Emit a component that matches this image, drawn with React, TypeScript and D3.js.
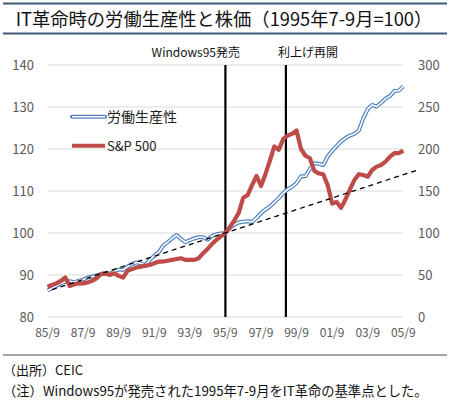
import React, { useEffect } from "react";
import * as d3 from "d3";

// Quarterly data, 1985 Jul-Sep (index 0) to 2005 Jul-Sep (index 80)
const productivity: number[] = [
  86.3, 86.8, 87.4, 88.0, 88.4, 88.5, 88.3, 88.6, 88.9, 89.4,
  89.6, 89.9, 90.2, 90.4, 90.3, 90.9, 91.3, 91.2, 92.0, 92.6,
  93.0, 92.8, 92.3, 93.6, 94.6, 95.4, 97.0, 97.8, 98.7, 99.5,
  98.6, 97.8, 98.3, 98.7, 99.0, 99.0, 98.4, 99.3, 99.7, 99.9,
  100.0, 101.2, 102.0, 102.5, 102.7, 102.8, 102.6, 103.6, 104.7, 105.6,
  106.3, 107.3, 108.3, 109.5, 110.4, 111.0, 111.9, 113.5, 113.5, 115.3,
  116.6, 116.5, 116.2, 118.2, 119.6, 120.7, 121.8, 122.6, 123.2, 123.6,
  124.4, 127.3, 129.5, 130.5, 130.1, 131.0, 132.0, 132.6, 133.8, 133.9,
  134.9,
];

const sp500: number[] = [
  36, 38, 40, 43, 47, 37, 39, 40, 40, 41,
  43, 46, 51, 52, 50, 52, 49, 47, 55, 57,
  59, 60, 61, 62, 64, 66, 66, 67, 68, 69,
  70, 68, 68, 68, 70, 76, 81, 87, 92, 96,
  100, 107, 115, 124, 142, 145, 157, 168, 156, 170,
  186, 203, 199, 212, 216, 218, 222, 200, 192, 189,
  174, 171, 170, 157, 135, 137, 130, 140, 152, 163,
  170, 169, 167, 175, 179, 181, 185, 191, 195, 195,
  198,
];

// Trend line (productivity, left axis) endpoints: [quarter index, value]
const trendQ: number[] = [1, 83.5];
const trendV: number[] = [86.5, 115.1];

const xTickLabels: string[] = ["85/9", "87/9", "89/9", "91/9", "93/9", "95/9", "97/9", "99/9", "01/9", "03/9", "05/9"];
const xTickQ: number[] = [0, 8, 16, 24, 32, 40, 48, 56, 64, 72, 80];
const leftTicks: number[] = [80, 90, 100, 110, 120, 130, 140];
const rightTicks: number[] = [0, 50, 100, 150, 200, 250, 300];

const eventQ: number[] = [40, 53.6];
const eventLabels: string[] = ["Windows95発売", "利上げ再開"];

const seriesNames: string[] = ["労働生産性", "S&P 500"];
const title = "IT革命時の労働生産性と株価（1995年7-9月=100）";
const notes: string[] = ["（出所）CEIC", "（注）Windows95が発売された1995年7-9月をIT革命の基準点とした。"];

const W = 450;
const H = 403;
const font = "'Noto Sans CJK JP', 'Noto Sans', sans-serif";

export default function App() {
  useEffect(() => {
    document.body.style.margin = "0";
  }, []);

  const x = d3.scaleLinear().domain([0, 80]).range([47.5, 403.3]);
  const yL = d3.scaleLinear().domain([80, 140]).range([317, 65]);
  const yR = d3.scaleLinear().domain([0, 300]).range([317, 65]);

  const lineL = d3.line<number>().x((_, i) => x(i)).y((d) => yL(d));
  const lineR = d3.line<number>().x((_, i) => x(i)).y((d) => yR(d));

  const trendPath = d3.line<number>().x((q) => x(q)).y((_, i) => yL(trendV[i]))(trendQ) || "";
  const prodPath = lineL(productivity) || "";
  const spPath = lineR(sp500) || "";

  const blue = "#4f81bd";
  const red = "#be4b48";
  const labelColor = "#595959";

  return (
    <svg width={W} height={H} style={{ position: "absolute", left: 0, top: 0, background: "#fff" }} fontFamily={font}>
      {/* title */}
      <line x1={3} x2={447} y1={3.5} y2={3.5} stroke="#3e5a78" strokeWidth={2} />
      <text x={224} y={25.5} textAnchor="middle" fontSize={18.3} fill="#111">{title}</text>
      <line x1={3} x2={447} y1={33.5} y2={33.5} stroke="#3e5a78" strokeWidth={2} />

      {/* gridlines */}
      {leftTicks.map((t) => (
        <line key={"g" + t} x1={48} x2={403} y1={yL(t)} y2={yL(t)} stroke="#d9d9d9" strokeWidth={1} />
      ))}

      {/* left ticks */}
      {leftTicks.map((t) => (
        <text key={"l" + t} x={34} y={yL(t) + 4.5} textAnchor="end" fontSize={13} fill={labelColor}>{t}</text>
      ))}
      {/* right ticks */}
      {rightTicks.map((t) => (
        <text key={"r" + t} x={418} y={yR(t) + 4.5} textAnchor="start" fontSize={13} fill={labelColor}>{t}</text>
      ))}
      {/* x ticks */}
      {xTickQ.map((q, i) => (
        <text key={"x" + q} x={x(q)} y={337} textAnchor="middle" fontSize={12} fill={labelColor}>{xTickLabels[i]}</text>
      ))}

      {/* event lines */}
      {eventQ.map((q) => (
        <line key={"e" + q} x1={x(q)} x2={x(q)} y1={65} y2={317} stroke="#000" strokeWidth={2.2} />
      ))}
      <text x={240} y={57} textAnchor="end" fontSize={12} fill="#111">{eventLabels[0]}</text>
      <text x={278} y={57} textAnchor="start" fontSize={12} fill="#111">{eventLabels[1]}</text>

      {/* productivity double line */}
      <path d={prodPath} fill="none" stroke={blue} strokeWidth={4} strokeLinejoin="round" />
      <path d={prodPath} fill="none" stroke="#fff" strokeWidth={1.6} strokeLinejoin="round" />

      {/* S&P 500 */}
      <path d={spPath} fill="none" stroke={red} strokeWidth={4.2} strokeLinejoin="round" />

      {/* trend line */}
      <path d={trendPath} fill="none" stroke="#000" strokeWidth={1.3} strokeDasharray="5,4" />

      {/* legend */}
      <line x1={72} x2={105} y1={116.7} y2={116.7} stroke={blue} strokeWidth={4} strokeLinecap="round" />
      <line x1={72} x2={105} y1={116.7} y2={116.7} stroke="#fff" strokeWidth={1.6} />
      <text x={107} y={122} fontSize={14} fill="#222">{seriesNames[0]}</text>
      <line x1={72} x2={105} y1={145.7} y2={145.7} stroke={red} strokeWidth={4} />
      <text x={107} y={150.5} fontSize={13} fill="#222">{seriesNames[1]}</text>

      {/* footer */}
      <line x1={3} x2={447} y1={355} y2={355} stroke="#7f8890" strokeWidth={1.5} />
      <text x={3} y={375} fontSize={13} fill="#111">{notes[0]}</text>
      <text x={3} y={396} fontSize={13.3} fill="#111">{notes[1]}</text>
    </svg>
  );
}
